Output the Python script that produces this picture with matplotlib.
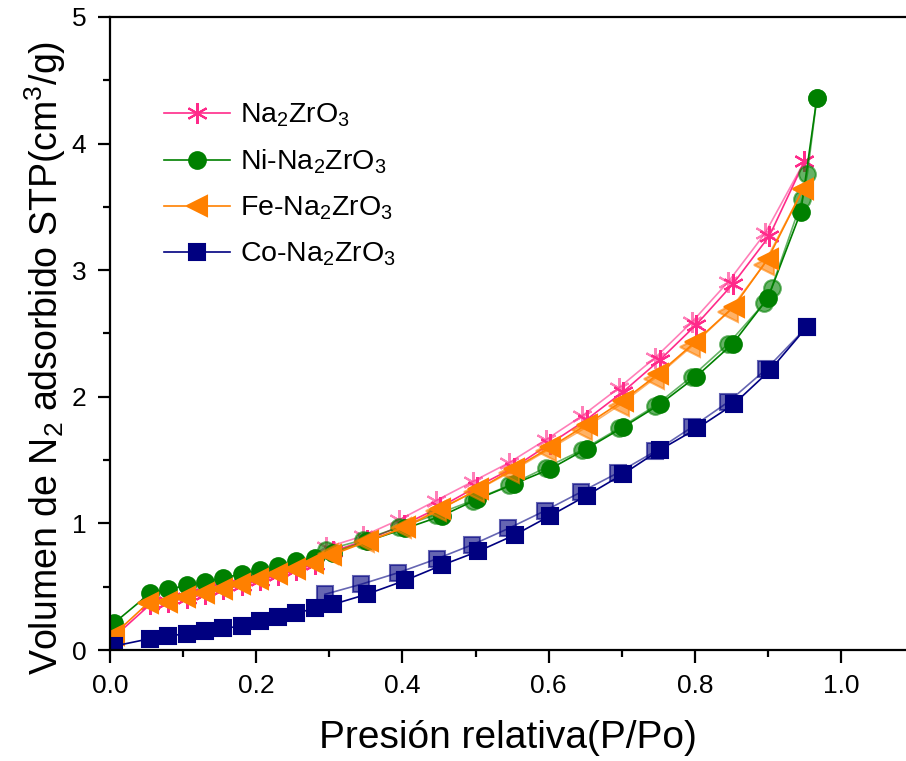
import matplotlib
matplotlib.use('Agg')
import matplotlib.pyplot as plt
from matplotlib.ticker import MultipleLocator

plt.rcParams['font.family'] = ['Liberation Sans', 'DejaVu Sans']
plt.rcParams['mathtext.default'] = 'regular'

# adsorcion / desorcion, P/Po vs volumen (cm3/g)
na_ads_x = [0.005, 0.055, 0.08, 0.105, 0.13, 0.155, 0.18, 0.205, 0.23, 0.255, 0.28, 0.305,
            0.352, 0.402, 0.452, 0.502, 0.552, 0.602, 0.652, 0.702, 0.752, 0.802, 0.852, 0.902, 0.950]
na_ads_y = [0.10, 0.36, 0.38, 0.41, 0.44, 0.48, 0.51, 0.55, 0.59, 0.63, 0.68, 0.78,
            0.87, 0.99, 1.13, 1.29, 1.44, 1.63, 1.82, 2.04, 2.29, 2.57, 2.89, 3.27, 3.86]
na_des_x = [0.950, 0.896, 0.846, 0.796, 0.746, 0.696, 0.646, 0.596, 0.546, 0.496, 0.446, 0.396, 0.346, 0.296]
na_des_y = [3.86, 3.29, 2.91, 2.59, 2.31, 2.07, 1.85, 1.66, 1.48, 1.33, 1.18, 1.03, 0.90, 0.81]

ni_ads_x = [0.005, 0.055, 0.08, 0.105, 0.13, 0.155, 0.18, 0.205, 0.23, 0.255, 0.28, 0.305,
            0.352, 0.404, 0.454, 0.502, 0.552, 0.602, 0.652, 0.702, 0.752, 0.802, 0.852, 0.900, 0.945, 0.967]
ni_ads_y = [0.21, 0.45, 0.48, 0.51, 0.54, 0.57, 0.60, 0.63, 0.66, 0.70, 0.73, 0.77,
            0.86, 0.96, 1.06, 1.19, 1.31, 1.43, 1.59, 1.76, 1.94, 2.16, 2.42, 2.78, 3.46, 4.36]
ni_des_x = [0.967, 0.954, 0.947, 0.905, 0.895, 0.846, 0.796, 0.746, 0.696, 0.646, 0.596, 0.546, 0.496, 0.446, 0.396, 0.346, 0.296]
ni_des_y = [4.36, 3.76, 3.56, 2.86, 2.74, 2.42, 2.16, 1.93, 1.75, 1.58, 1.44, 1.30, 1.18, 1.07, 0.97, 0.87, 0.79]

fe_ads_x = [0.005, 0.052, 0.078, 0.103, 0.128, 0.153, 0.178, 0.203, 0.228, 0.253, 0.278, 0.303,
            0.353, 0.404, 0.451, 0.504, 0.552, 0.602, 0.652, 0.702, 0.750, 0.800, 0.853, 0.900, 0.948]
fe_ads_y = [0.12, 0.37, 0.38, 0.42, 0.45, 0.48, 0.52, 0.56, 0.60, 0.64, 0.69, 0.75,
            0.86, 0.97, 1.11, 1.27, 1.43, 1.60, 1.78, 1.97, 2.18, 2.43, 2.71, 3.09, 3.64]
fe_des_x = [0.948, 0.894, 0.846, 0.794, 0.744, 0.696, 0.646, 0.596, 0.546, 0.498, 0.446, 0.398, 0.348, 0.298]
fe_des_y = [3.64, 3.04, 2.67, 2.39, 2.14, 1.93, 1.74, 1.57, 1.40, 1.25, 1.10, 0.96, 0.85, 0.76]

co_ads_x = [0.005, 0.055, 0.08, 0.105, 0.13, 0.155, 0.18, 0.205, 0.23, 0.255, 0.28, 0.305,
            0.351, 0.404, 0.454, 0.504, 0.554, 0.602, 0.652, 0.702, 0.752, 0.803, 0.853, 0.903, 0.953]
co_ads_y = [0.03, 0.09, 0.11, 0.13, 0.15, 0.17, 0.19, 0.23, 0.26, 0.29, 0.33, 0.36,
            0.44, 0.55, 0.67, 0.78, 0.91, 1.06, 1.22, 1.39, 1.58, 1.75, 1.94, 2.21, 2.55]
co_des_x = [0.953, 0.898, 0.846, 0.796, 0.746, 0.695, 0.645, 0.595, 0.545, 0.495, 0.447, 0.394, 0.344, 0.294]
co_des_y = [2.55, 2.22, 1.96, 1.76, 1.57, 1.40, 1.25, 1.10, 0.96, 0.83, 0.72, 0.61, 0.52, 0.44]

series = [
    ('Na$_2$ZrO$_3$', '#FF2A8A', (6, 2, 0), 15, na_ads_x, na_ads_y, na_des_x, na_des_y),
    ('Ni-Na$_2$ZrO$_3$', '#008000', 'o', 12, ni_ads_x, ni_ads_y, ni_des_x, ni_des_y),
    ('Fe-Na$_2$ZrO$_3$', '#FF8000', '<', 14, fe_ads_x, fe_ads_y, fe_des_x, fe_des_y),
    ('Co-Na$_2$ZrO$_3$', '#000080', 's', 11, co_ads_x, co_ads_y, co_des_x, co_des_y),
]

fig = plt.figure(figsize=(9.06, 7.61), dpi=100)
ax = fig.add_axes([110/906, 111/761, 796/906, 633/761])

for name, col, mk, ms, ax_, ay_, dx_, dy_ in series:
    ax.plot(dx_, dy_, color=col, marker=mk, ms=ms, lw=1.2, alpha=0.6, mew=1.5)
    ax.plot(ax_, ay_, color=col, marker=mk, ms=ms, lw=1.2, mew=1.5, label=name)

ax.set_xlim(0, 796/731)
ax.set_ylim(0, 5)
ax.xaxis.set_major_locator(MultipleLocator(0.2))
ax.xaxis.set_minor_locator(MultipleLocator(0.1))
ax.yaxis.set_major_locator(MultipleLocator(1))
ax.yaxis.set_minor_locator(MultipleLocator(0.5))
ax.xaxis.set_major_formatter(plt.FormatStrFormatter('%.1f'))
ax.spines['right'].set_visible(False)
for s in ['left', 'bottom', 'top']:
    ax.spines[s].set_linewidth(1.6)
ax.tick_params(which='major', direction='out', length=9, width=1.6, labelsize=19,
               pad=8, top=False, right=False)
ax.tick_params(which='minor', direction='out', length=5, width=1.6, top=False, right=False)

ax.set_xlabel('Presión relativa(P/Po)', fontsize=28, labelpad=16)
ax.set_ylabel('Volumen de N$_2$ adsorbido STP(cm$^3$/g)', fontsize=27)
ax.yaxis.set_label_coords(-0.053, 0.462)

ax.legend(loc='upper left', bbox_to_anchor=(0.054, 0.884), frameon=False, fontsize=20.5,
          numpoints=1, handlelength=2.3, labelspacing=0.65, handletextpad=0.35,
          borderaxespad=0)

plt.savefig('out.png', dpi=100)
